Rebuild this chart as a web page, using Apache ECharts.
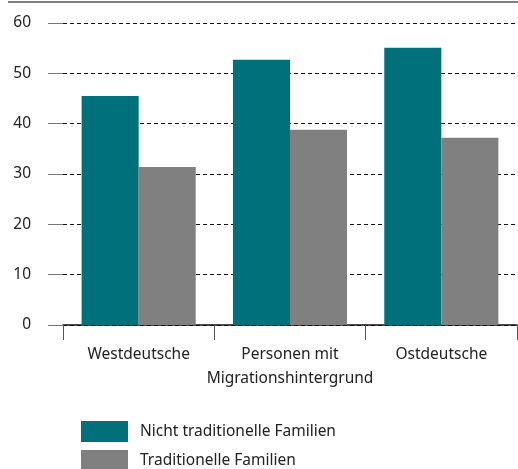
<!DOCTYPE html>
<html>
<head>
<meta charset="utf-8">
<script src="https://cdn.jsdelivr.net/npm/echarts@6/dist/echarts.min.js"></script>
<style>
  html, body { margin: 0; padding: 0; background: #fff; }
  #chart { width: 518px; height: 469px; }
</style>
</head>
<body>
<div id="chart"></div>
<script>
// Daten
var categories = ['Westdeutsche', 'Personen mit\nMigrationshintergrund', 'Ostdeutsche']
var nichtTraditionell = [45.5, 52.7, 55.1]
var traditionell = [31.4, 38.8, 37.2]
var seriesNames = ['Nicht traditionelle Familien', 'Traditionelle Familien']

var FONT = 'Noto Sans'
var FS = 15.5

function legendFor(name, top) {
  return {
    orient: 'vertical',
    left: 81,
    top: top,
    padding: 0,
    itemWidth: 47,
    itemHeight: 21,
    icon: 'rect',
    data: [name],
    textStyle: { fontFamily: FONT, fontSize: FS, color: '#222', padding: [0, 0, 0, 7] }
  }
}

var chart = echarts.init(document.getElementById('chart'))
chart.setOption({
  animation: false,
  textStyle: { fontFamily: FONT },
  grid: {
    left: 63,
    right: 1,
    top: 23,
    bottom: 144
  },
  // dünne Linie ganz oben
  graphic: [{
    type: 'line',
    shape: { x1: 8, y1: 2, x2: 518, y2: 2 },
    style: { stroke: '#555', lineWidth: 1.5 }
  }],
  legend: [legendFor(seriesNames[0], 421), legendFor(seriesNames[1], 450)],
  xAxis: {
    type: 'category',
    data: categories,
    axisLine: { lineStyle: { color: '#111', width: 1.5 } },
    axisTick: { show: true, length: 15, lineStyle: { color: '#555' } },
    axisLabel: { interval: 0, color: '#222', fontSize: FS, margin: 18, lineHeight: 24, fontFamily: FONT },
    splitLine: { show: false }
  },
  yAxis: {
    type: 'value',
    min: 0,
    max: 60,
    interval: 10,
    axisLine: { show: false },
    axisTick: { show: true, length: 15, lineStyle: { color: '#777' } },
    axisLabel: { color: '#222', fontSize: FS, margin: 32, fontFamily: FONT },
    splitLine: {
      show: true,
      lineStyle: { color: '#111', type: [4, 3], width: 1 }
    }
  },
  series: [{
    name: seriesNames[0],
    type: 'bar',
    barWidth: '37.7%',
    barGap: 0,
    itemStyle: { color: '#00717B' },
    data: nichtTraditionell
  }, {
    name: seriesNames[1],
    type: 'bar',
    barWidth: '37.7%',
    barGap: 0,
    itemStyle: { color: '#808080' },
    data: traditionell
  }]
})
</script>
</body>
</html>
